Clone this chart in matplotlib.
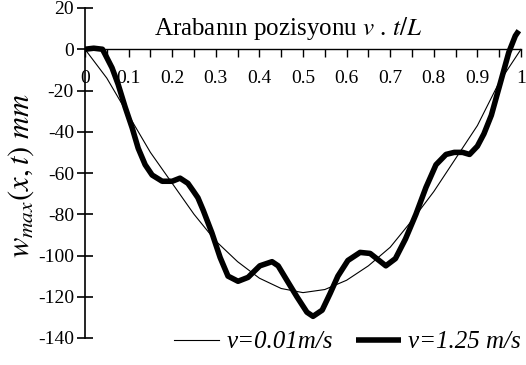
import matplotlib
matplotlib.use('Agg')
from matplotlib import pyplot as plt
from matplotlib.ticker import MultipleLocator, FixedLocator

plt.rcParams['font.family'] = ['Liberation Serif', 'DejaVu Serif']
plt.rcParams['mathtext.fontset'] = 'stix'
plt.rcParams['axes.unicode_minus'] = False

# v=0.01 m/s (thin line)
slow_x = [0, 0.05, 0.1, 0.15, 0.2, 0.25, 0.3, 0.35, 0.4, 0.45, 0.5,
          0.55, 0.6, 0.65, 0.7, 0.75, 0.8, 0.85, 0.9, 0.95, 1.0]
slow_y = [0, -14, -32, -50, -65, -80, -93, -103, -111, -116, -118,
          -116.5, -112, -105, -96, -83, -69, -53, -37, -16, 0]

# v=1.25 m/s (thick line)
fast_x = [0, 0.02, 0.04, 0.046, 0.062, 0.076, 0.092, 0.108, 0.122, 0.138, 0.154,
          0.177, 0.2, 0.218, 0.236, 0.248, 0.259, 0.271, 0.291, 0.31, 0.328,
          0.351, 0.374, 0.401, 0.429, 0.443, 0.463, 0.486, 0.509, 0.523, 0.544,
          0.562, 0.58, 0.603, 0.631, 0.654, 0.672, 0.69, 0.712, 0.735, 0.759,
          0.782, 0.805, 0.828, 0.847, 0.866, 0.882, 0.9, 0.915, 0.932, 0.955,
          0.972, 0.987, 0.995]
fast_y = [0, 0.5, 0, -2.4, -9, -17, -28, -38, -48, -56, -61,
          -64, -64, -62.5, -65, -68.6, -72, -78, -89, -101, -110,
          -112.5, -110.6, -105, -103, -105, -112, -120, -127.5, -129.5, -126.5,
          -118.5, -110, -102.4, -98.5, -99, -102, -105, -101.5, -92, -80,
          -67, -56, -51, -50, -50, -51, -47, -41, -32, -14.5,
          -1.5, 6.5, 9]

x_ticks = [0, 0.1, 0.2, 0.3, 0.4, 0.5, 0.6, 0.7, 0.8, 0.9, 1.0]
x_labels = ['0', '0.1', '0.2', '0.3', '0.4', '0.5', '0.6', '0.7', '0.8', '0.9', '1']
y_ticks = [-140, -120, -100, -80, -60, -40, -20, 0, 20]

fig = plt.figure(figsize=(5.26, 3.65), dpi=100)
ax = fig.add_axes([85/526, 27/365, 436/526, 330/365])

ax.plot(slow_x, slow_y, color='black', lw=0.8, label='v=0.01m/s')
ax.plot(fast_x, fast_y, color='black', lw=4, solid_joinstyle='round',
        solid_capstyle='butt', label='v=1.25 m/s')

ax.set_xlim(0, 1)
ax.set_ylim(-140, 20)

for s in ['top', 'right']:
    ax.spines[s].set_visible(False)
ax.spines['bottom'].set_position(('data', 0))
ax.spines['left'].set_linewidth(1.2)
ax.spines['bottom'].set_linewidth(1.0)

ax.xaxis.set_major_locator(FixedLocator(x_ticks))
ax.set_xticklabels(x_labels)
ax.xaxis.set_minor_locator(MultipleLocator(0.05))
ax.tick_params(axis='x', which='both', direction='out', length=6, width=1,
               labelsize=14, pad=9)
ax.set_yticks(y_ticks)
ax.tick_params(axis='y', direction='inout', length=12, width=1.2,
               labelsize=14, pad=2)

ax.text(0.466, 10, 'Arabanın pozisyonu $v$ . $t/L$', ha='center', va='center',
        fontsize=18)

fig.text(21/526, 1 - 176/365, r'$w_{max}(x,t)\ mm$', rotation=90,
         ha='center', va='center', fontsize=22)

leg = ax.legend(loc='center right', bbox_to_anchor=(521/526, 1 - 342/365),
                bbox_transform=fig.transFigure, ncol=2, frameon=False,
                handlelength=1.8, handletextpad=0.3, columnspacing=0.9,
                borderaxespad=0, borderpad=0,
                prop={'size': 18, 'style': 'italic'})

fig.savefig('out.png', dpi=100)
